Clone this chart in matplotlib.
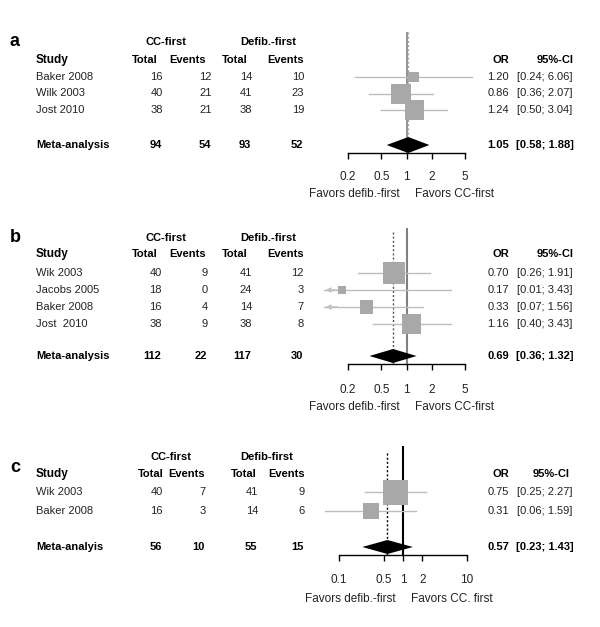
import numpy as np
import matplotlib
matplotlib.use("Agg")
import matplotlib.pyplot as plt

plt.rcParams['font.family'] = ['Liberation Sans', 'DejaVu Sans']
plt.rcParams['font.size'] = 8

# ---- panel a data
a_studies = ['Baker 2008', 'Wilk 2003', 'Jost 2010']
a_cc_total = [16, 40, 38]
a_cc_events = [12, 21, 21]
a_df_total = [14, 41, 38]
a_df_events = [10, 23, 19]
a_or = [1.20, 0.86, 1.24]
a_lo = [0.24, 0.36, 0.50]
a_hi = [6.06, 2.07, 3.04]
a_weight = [13.4, 44.4, 42.2]
a_meta = ['Meta-analysis', 94, 54, 93, 52]
a_meta_or = [1.05, 0.58, 1.88]

# ---- panel b data
b_studies = ['Wik 2003', 'Jacobs 2005', 'Baker 2008', 'Jost  2010']
b_cc_total = [40, 18, 16, 38]
b_cc_events = [9, 0, 4, 9]
b_df_total = [41, 24, 14, 38]
b_df_events = [12, 3, 7, 8]
b_or = [0.70, 0.17, 0.33, 1.16]
b_lo = [0.26, 0.01, 0.07, 0.40]
b_hi = [1.91, 3.43, 1.56, 3.43]
b_weight = [44.9, 5.9, 15.7, 33.5]
b_meta = ['Meta-analysis', 112, 22, 117, 30]
b_meta_or = [0.69, 0.36, 1.32]

# ---- panel c data
c_studies = ['Wik 2003', 'Baker 2008']
c_cc_total = [40, 16]
c_cc_events = [7, 3]
c_df_total = [41, 14]
c_df_events = [9, 6]
c_or = [0.75, 0.31]
c_lo = [0.25, 0.06]
c_hi = [2.27, 1.59]
c_weight = [70.9, 29.1]
c_meta = ['Meta-analyis', 56, 10, 55, 15]
c_meta_or = [0.57, 0.23, 1.43]

ab_ticks = [0.2, 0.5, 1, 2, 5]
ab_ticklabels = ['0.2', '0.5', '1', '2', '5']
c_ticks = [0.1, 0.5, 1, 2, 10]
c_ticklabels = ['0.1', '0.5', '1', '2', '10']

W, H = 600, 627
fig = plt.figure(figsize=(W / 100, H / 100), dpi=100)
bg = fig.add_axes([0, 0, 1, 1])
bg.set_xlim(0, W)
bg.set_ylim(H, 0)
bg.axis('off')

sq_col = '#a8a8a8'
ci_col = '#bdbdbd'


def draw_panel(letter, heads, studies, cct, cce, dft, dfe, ors, los, his, wts,
               meta, meta_or, ticks, ticklabels, favors, lay):
    y_h1, y_h2, y0, dy, y_meta = lay['y_h1'], lay['y_h2'], lay['y0'], lay['dy'], lay['y_meta']
    hx = lay['head_x']
    vx = lay['val_x']

    bg.text(10, lay['y_letter'], letter, fontsize=13, fontweight='bold', va='center')
    bg.text(lay['h1_x'][0], y_h1, heads[0], fontweight='bold', ha='center', va='center')
    bg.text(lay['h1_x'][1], y_h1, heads[1], fontweight='bold', ha='center', va='center')
    bg.text(36, y_h2, 'Study', fontweight='bold', va='center', fontsize=8.5)
    for x, s in zip(hx, ['Total', 'Events', 'Total', 'Events']):
        bg.text(x, y_h2, s, fontweight='bold', ha='right', va='center')
    bg.text(509, y_h2, 'OR', fontweight='bold', ha='right', va='center')
    bg.text(lay['ci_head_x'], y_h2, '95%-CI', fontweight='bold', ha='right', va='center')

    rows_y = [y0 + i * dy for i in range(len(studies))]
    for i, y in enumerate(rows_y):
        bg.text(36, y, studies[i], va='center', color='#222222')
        for x, v in zip(vx, [cct[i], cce[i], dft[i], dfe[i]]):
            bg.text(x, y, str(v), ha='right', va='center', color='#222222')
        bg.text(509, y, f'{ors[i]:.2f}', ha='right', va='center', color='#222222')
        bg.text(517, y, f'[{los[i]:.2f}; {his[i]:.2f}]', ha='left', va='center', color='#222222')

    bg.text(36, y_meta, meta[0], fontweight='bold', va='center')
    for x, v in zip(vx, meta[1:]):
        bg.text(x - 1, y_meta, str(v), fontweight='bold', ha='right', va='center')
    bg.text(509, y_meta, f'{meta_or[0]:.2f}', fontweight='bold', ha='right', va='center')
    bg.text(516, y_meta, f'[{meta_or[1]:.2f}; {meta_or[2]:.2f}]', fontweight='bold',
            ha='left', va='center')

    # forest axes, y in pixel units so it lines up with the table
    px0, px1 = lay['fx']
    top, bot = lay['y_top'] - 5, lay['y_axis'] + 60
    ax = fig.add_axes([px0 / W, 1 - bot / H, (px1 - px0) / W, (bot - top) / H])
    ax.set_xscale('log')
    ax.set_xlim(*lay['xlim'])
    ax.set_ylim(bot, top)
    ax.axis('off')
    ax.patch.set_alpha(0)

    ya = lay['y_axis']
    ax.plot([1, 1], [lay['y_top'], ya], color=lay['ref_col'], lw=lay['ref_lw'],
            solid_capstyle='butt', zorder=1)
    ax.plot([meta_or[0], meta_or[0]], [lay['y_top'] + lay['dot_off'], ya],
            color=lay['dot_col'], lw=1, ls=(0, (1.5, 1.5)), zorder=1)

    xmin = lay['xlim'][0]
    for i, y in enumerate(rows_y):
        if los[i] < xmin:
            ax.plot([xmin * 1.03, his[i]], [y, y], color=ci_col, lw=1, zorder=2)
            ax.annotate('', xy=(xmin, y), xytext=(xmin * 1.6, y),
                        arrowprops=dict(arrowstyle='->', color=ci_col, lw=1,
                                        mutation_scale=7), zorder=2)
        else:
            ax.plot([los[i], his[i]], [y, y], color=ci_col, lw=1, zorder=2)
    side = lay['max_sq'] * np.sqrt(np.array(wts) / max(wts)) * 0.72
    ax.scatter(ors, rows_y, s=side ** 2, marker='s', color=sq_col, linewidths=0, zorder=3)

    hh = lay['dia_h']
    ax.fill([meta_or[1], meta_or[0], meta_or[2], meta_or[0]],
            [y_meta, y_meta - hh, y_meta, y_meta + hh], color='black', lw=0, zorder=4)

    ax.plot([ticks[0], ticks[-1]], [ya, ya], color='black', lw=1, zorder=2)
    ax.vlines(ticks, ya, ya + 6, color='black', lw=1)
    for t, s in zip(ticks, ticklabels):
        ax.text(t, lay['y_ticklab'], s, ha='center', va='center', fontsize=8.5, color='#222222')
    ax.annotate(favors[0], xy=(1, lay['y_fav']), xytext=(-5, 0), textcoords='offset points',
                ha='right', va='center', fontsize=8.5, color='#222222')
    ax.annotate(favors[1], xy=(1, lay['y_fav']), xytext=(6, 0), textcoords='offset points',
                ha='left', va='center', fontsize=8.5, color='#222222')


lay_a = dict(y_letter=42, y_h1=42, y_h2=60, y0=77, dy=16.5, y_meta=145, y_top=32, dot_off=0,
             y_axis=153, y_ticklab=177, y_fav=194, h1_x=[166, 268],
             head_x=[158, 206, 248, 304], val_x=[163, 212, 252, 304], ci_head_x=574,
             fx=(323, 490), xlim=(0.1, 10), ref_col='#808080', ref_lw=1.2,
             dot_col='#aaaaaa', max_sq=20, dia_h=8)
lay_b = dict(y_letter=238, y_h1=238, y_h2=254, y0=273, dy=17, y_meta=356, y_top=228, dot_off=4,
             y_axis=364, y_ticklab=390, y_fav=407, h1_x=[166, 268],
             head_x=[158, 206, 248, 304], val_x=[162, 208, 252, 304], ci_head_x=574,
             fx=(323, 490), xlim=(0.1, 10), ref_col='#808080', ref_lw=1.5,
             dot_col='#555555', max_sq=22, dia_h=7)
lay_c = dict(y_letter=468, y_h1=457, y_h2=474, y0=492, dy=19, y_meta=547, y_top=446, dot_off=7,
             y_axis=555, y_ticklab=580, y_fav=599, h1_x=[171, 267],
             head_x=[164, 205, 257, 305], val_x=[163, 206, 258, 305], ci_head_x=570,
             fx=(320, 486), xlim=(0.05, 20), ref_col='black', ref_lw=1.5,
             dot_col='black', max_sq=25, dia_h=7)

draw_panel('a', ['CC-first', 'Defib.-first'], a_studies, a_cc_total, a_cc_events, a_df_total,
           a_df_events, a_or, a_lo, a_hi, a_weight, a_meta, a_meta_or, ab_ticks, ab_ticklabels,
           ['Favors defib.-first', 'Favors CC-first'], lay_a)
draw_panel('b', ['CC-first', 'Defib.-first'], b_studies, b_cc_total, b_cc_events, b_df_total,
           b_df_events, b_or, b_lo, b_hi, b_weight, b_meta, b_meta_or, ab_ticks, ab_ticklabels,
           ['Favors defib.-first', 'Favors CC-first'], lay_b)
draw_panel('c', ['CC-first', 'Defib-first'], c_studies, c_cc_total, c_cc_events, c_df_total,
           c_df_events, c_or, c_lo, c_hi, c_weight, c_meta, c_meta_or, c_ticks, c_ticklabels,
           ['Favors defib.-first', 'Favors CC. first'], lay_c)

fig.savefig('out.png', dpi=100)
